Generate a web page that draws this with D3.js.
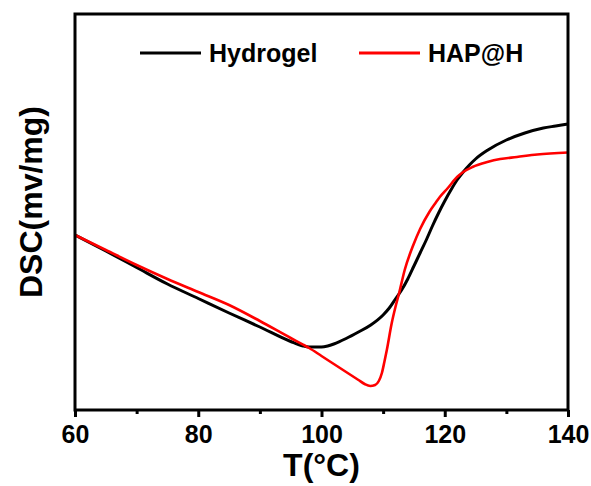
<!DOCTYPE html>
<html>
<head>
<meta charset="utf-8">
<script src="https://cdn.jsdelivr.net/npm/d3@7"></script>
<style>
  body { margin: 0; background: #fff; }
  text { font-family: Arial, "Liberation Sans", sans-serif; font-weight: bold; fill: #000; }
</style>
</head>
<body>
<svg id="chart" width="591" height="486"></svg>
<script>
// DSC curves, heat flow in arbitrary units (no y ticks on the original)
var hydrogelT   = [60, 65, 70, 75, 80, 85, 90, 95, 97, 98, 100, 101, 102, 104, 106, 108, 110, 111, 112, 113, 114, 115, 116, 117, 118, 119, 120, 121, 122, 123, 124, 125, 127, 130, 133, 136, 138, 140];
var hydrogelDSC = [1.75, 1.59, 1.425, 1.26, 1.115, 0.97, 0.83, 0.685, 0.64, 0.63, 0.63, 0.64, 0.66, 0.715, 0.78, 0.85, 0.95, 1.02, 1.11, 1.20, 1.31, 1.44, 1.57, 1.70, 1.84, 1.97, 2.09, 2.20, 2.30, 2.38, 2.45, 2.51, 2.60, 2.70, 2.77, 2.82, 2.84, 2.86];

var hapT   = [60, 65, 70, 75, 80, 85, 90, 95, 97, 98, 100, 102, 104, 106, 107, 107.9, 108.7, 109.3, 109.8, 110.2, 110.6, 111.4, 112, 112.6, 113.5, 114.9, 116, 117.5, 118.5, 119.2, 120.5, 122, 123, 124.5, 126.9, 129, 131.7, 135, 140];
var hapDSC = [1.75, 1.60, 1.45, 1.31, 1.18, 1.05, 0.89, 0.72, 0.654, 0.62, 0.54, 0.46, 0.38, 0.30, 0.26, 0.24, 0.25, 0.29, 0.37, 0.48, 0.60, 0.87, 1.03, 1.17, 1.40, 1.65, 1.81, 1.98, 2.07, 2.13, 2.22, 2.33, 2.38, 2.43, 2.48, 2.51, 2.53, 2.555, 2.575];

var seriesNames  = ["Hydrogel", "HAP@H"];
var seriesColors = ["#000000", "#ff0000"];
var majorTicks = [60, 80, 100, 120, 140];
var minorTicks = [70, 90, 110, 130];

var svg = d3.select("#chart");
// note: "top" is taken by window.top, so plot edges get their own names
var plotL = 75, plotR = 568, plotT = 14, plotB = 410;

var x = d3.scaleLinear().domain([60, 140]).range([plotL, plotR]);
var y = d3.scaleLinear().domain([0, 3.96]).range([plotB, plotT]);

var series = [
  { name: seriesNames[0], color: seriesColors[0], width: 3, pts: d3.zip(hydrogelT, hydrogelDSC) },
  { name: seriesNames[1], color: seriesColors[1], width: 2.6, pts: d3.zip(hapT, hapDSC) }
];

var line = d3.line()
    .x(function(d) { return x(d[0]); })
    .y(function(d) { return y(d[1]); })
    .curve(d3.curveMonotoneX);

// curves (black under red)
svg.append("g")
  .selectAll("path")
  .data(series)
  .enter().append("path")
    .attr("d", function(d) { return line(d.pts); })
    .attr("fill", "none")
    .attr("stroke", function(d) { return d.color; })
    .attr("stroke-width", function(d) { return d.width; })
    .attr("stroke-linejoin", "round");

// bottom axis: major + minor ticks
var xAxis = d3.axisBottom(x).tickValues(majorTicks).tickSize(7).tickPadding(5);
var gx = svg.append("g")
    .attr("transform", "translate(0," + plotB + ")")
    .call(xAxis);
gx.select(".domain").remove();
gx.selectAll(".tick line").attr("stroke", "#000").attr("stroke-width", 3);
gx.selectAll(".tick text")
    .attr("font-size", 25)
    .attr("font-family", "Arial, 'Liberation Sans', sans-serif")
    .attr("font-weight", "bold")
    .attr("fill", "#000")
    .attr("dy", "0.85em");

var xMinor = d3.axisBottom(x).tickValues(minorTicks).tickSize(4).tickFormat("");
var gm = svg.append("g")
    .attr("transform", "translate(0," + plotB + ")")
    .call(xMinor);
gm.select(".domain").remove();
gm.selectAll(".tick line").attr("stroke", "#000").attr("stroke-width", 3);

// frame
svg.append("rect")
    .attr("x", plotL)
    .attr("y", plotT)
    .attr("width", plotR - plotL)
    .attr("height", plotB - plotT)
    .attr("fill", "none")
    .attr("stroke", "#000")
    .attr("stroke-width", 3);

// axis titles
svg.append("text")
    .attr("x", (plotL + plotR) / 2)
    .attr("y", 476)
    .attr("text-anchor", "middle")
    .attr("font-size", 32)
    .text("T(°C)");

svg.append("text")
    .attr("transform", "translate(42,202) rotate(-90)")
    .attr("text-anchor", "middle")
    .attr("font-size", 32)
    .text("DSC(mv/mg)");

// legend
var legendX = [140, 359];
var legend = svg.append("g")
  .selectAll("g")
  .data(series)
  .enter().append("g")
    .attr("transform", function(d, i) { return "translate(" + legendX[i] + ",53)"; });

legend.append("line")
    .attr("x1", 0).attr("x2", 61)
    .attr("y1", 0).attr("y2", 0)
    .attr("stroke", function(d) { return d.color; })
    .attr("stroke-width", 3);

legend.append("text")
    .attr("x", 69)
    .attr("y", 9)
    .attr("font-size", 25)
    .text(function(d) { return d.name; });
</script>
</body>
</html>
